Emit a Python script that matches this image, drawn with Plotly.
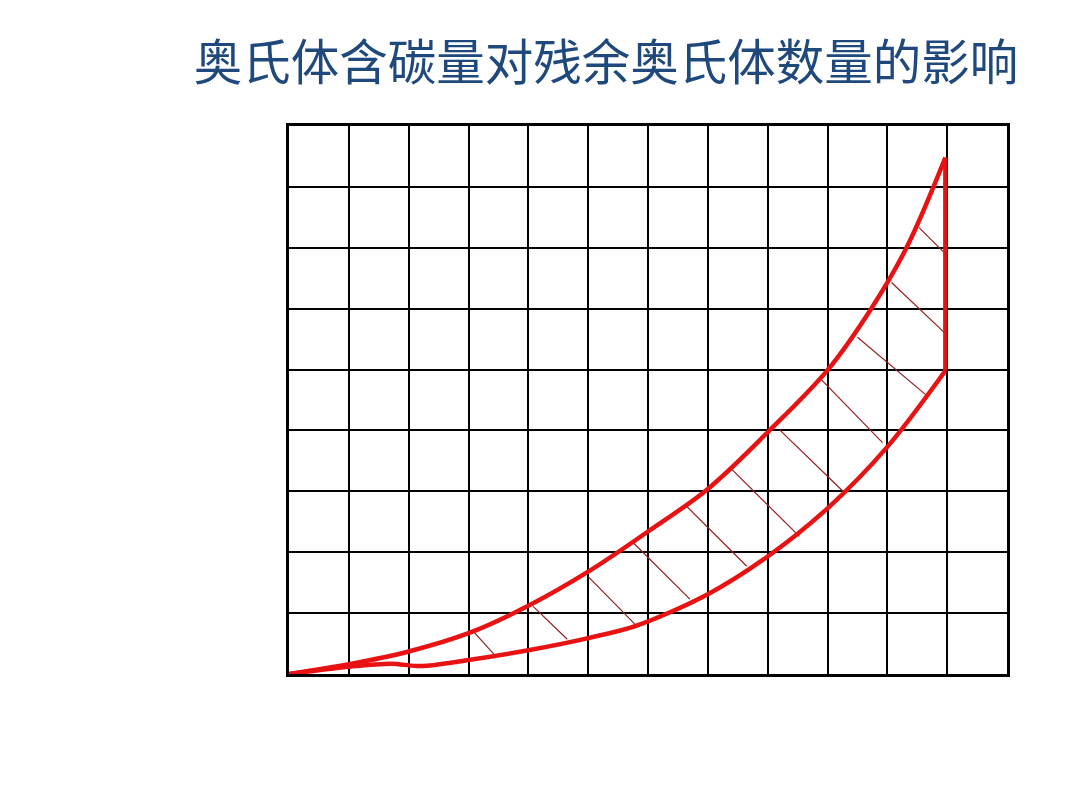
import plotly.graph_objects as go

title_text = "奥氏体含碳量对残余奥氏体数量的影响"

# grid: 12 columns x 9 rows
x_cells = 12
y_cells = 9

# upper curve (grid units)
upper_x = [0, 1, 2, 3, 4, 5, 6, 7, 8, 9, 9.73, 10.32, 10.97]
upper_y = [0, 0.16, 0.37, 0.67, 1.12, 1.68, 2.34, 3.04, 3.97, 4.99, 6.0, 7.0, 8.48]

# lower curve
lower_x = [0, 1, 1.7, 2.2, 3, 4, 5, 5.8, 7, 8, 9, 10, 10.97]
lower_y = [0, 0.12, 0.17, 0.13, 0.23, 0.39, 0.59, 0.79, 1.31, 1.93, 2.72, 3.73, 4.98]

# hatch strokes between the curves: start and end points
hatch_x0 = [3.08, 4.08, 5.0, 5.75, 6.65, 7.4, 8.2, 8.9, 9.5, 10.07, 10.53]
hatch_y0 = [0.70, 1.11, 1.60, 2.16, 2.75, 3.36, 4.01, 4.83, 5.53, 6.43, 7.33]
hatch_x1 = [3.42, 4.65, 5.83, 6.7, 7.65, 8.53, 9.28, 9.92, 10.65, 10.95, 10.95]
hatch_y1 = [0.33, 0.57, 0.77, 1.23, 1.77, 2.26, 2.98, 3.80, 4.58, 5.61, 6.92]

red = "rgb(232,18,18)"
dark_red = "rgb(150,30,30)"

fig = go.Figure()

hx, hy = [], []
for a, b, c, d in zip(hatch_x0, hatch_y0, hatch_x1, hatch_y1):
    hx += [a, c, None]
    hy += [b, d, None]
fig.add_trace(go.Scatter(x=hx, y=hy, mode="lines",
                         line=dict(color=dark_red, width=1.2), hoverinfo="skip"))

fig.add_trace(go.Scatter(x=upper_x, y=upper_y, mode="lines",
                         line=dict(color=red, width=4.5, shape="spline", smoothing=1)))
fig.add_trace(go.Scatter(x=lower_x, y=lower_y, mode="lines",
                         line=dict(color=red, width=4.5, shape="spline", smoothing=0.9)))
# closing vertical edge
fig.add_trace(go.Scatter(x=[upper_x[-1], lower_x[-1]], y=[upper_y[-1], lower_y[-1]],
                         mode="lines", line=dict(color=red, width=4.5)))

axis_style = dict(
    showgrid=True, gridcolor="black", gridwidth=2, dtick=1, tick0=0,
    showticklabels=False, ticks="", zeroline=False,
    showline=True, linecolor="black", linewidth=3, mirror=True,
)

fig.update_layout(
    title=dict(text=title_text, x=598 / 1080, xanchor="center", y=1 - 55 / 810, yanchor="middle",
               xref="container", yref="container",
               font=dict(family="Noto Sans CJK SC", size=48.5, color="rgb(31,73,125)")),
    xaxis=dict(range=[0, x_cells], **axis_style),
    yaxis=dict(range=[0, y_cells], **axis_style),
    width=1080,
    height=810,
    margin=dict(l=281, r=81, t=118, b=144),
    plot_bgcolor="white",
    paper_bgcolor="white",
    showlegend=False,
)

fig.write_html("out.html")
